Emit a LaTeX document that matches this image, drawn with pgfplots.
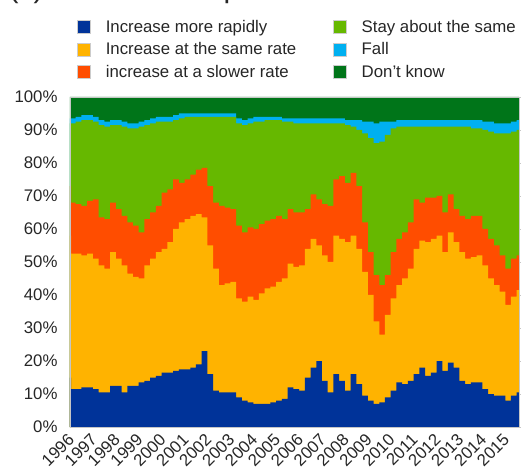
\documentclass[border=0pt]{standalone}
\usepackage{fontspec}
\setmainfont{Liberation Sans}
\usepackage{pgfplots}
\pgfplotsset{compat=1.18}
\usepackage{pgfplotstable}
\definecolor{cBlue}{RGB}{0,51,153}
\definecolor{cYel}{RGB}{255,179,0}
\definecolor{cRed}{RGB}{255,77,0}
\definecolor{cGrn}{RGB}{102,184,0}
\definecolor{cLb}{RGB}{0,176,240}
\definecolor{cDg}{RGB}{0,117,25}
\definecolor{cTxt}{RGB}{38,38,38}
\newcommand{\fs}{\fontsize{16.8}{19}\selectfont}
% cumulative shares (%): B1 = more rapidly, B2 = +same rate, B3 = +slower rate,
% B4 = +stay the same, B5 = +fall, T = +don't know (=100)
\pgfplotstableread{
t B1 B2 B3 B4 B5 T
1996.00 15 58 73 92 93.5 100
1996.05 11.5 52.5 68 92 93.5 100
1996.25 11.5 52.5 67.5 92.5 94 100
1996.50 12 52 67 93 94.5 100
1996.75 12 52.5 68.5 93 94.5 100
1997.00 11.5 51 69 92.5 94 100
1997.25 10.5 49 63.5 91.5 93 100
1997.50 10.5 48 63 91 92.5 100
1997.75 12.5 53 68 91.5 93 100
1998.00 12.5 51 66 91.5 93 100
1998.25 10.5 49 64 91 92.5 100
1998.50 12.5 46.5 62 90.5 92 100
1998.75 12.5 45.5 61 90.5 92 100
1999.00 13.5 45 59 91 92.5 100
1999.25 14 49 63 91.5 93 100
1999.50 15 51 65 92 93.5 100
1999.75 15.5 53 67 92.5 94 100
2000.00 16.5 54 71 92.5 94 100
2000.25 16.5 56 72 92.5 94 100
2000.50 17 60 75 93 94.5 100
2000.75 17.5 62 74 93.5 95 100
2001.00 17.5 63 75 94 95 100
2001.25 18 64 76.5 94 95 100
2001.50 19 64.5 78 94 95 100
2001.75 23 63.5 78.5 94 95 100
2002.00 16 55 73 94 95 100
2002.25 11 48 68 94 95 100
2002.50 10.5 43 67 94 95 100
2002.75 10.5 43.5 66.5 94 95 100
2003.00 10.5 44 66 94 95 100
2003.25 9 39 61 92 93.5 100
2003.50 8 38 59 91.5 93 100
2003.75 7.5 39.5 60.5 92 93.5 100
2004.00 7 38.5 60 92.5 94 100
2004.25 7 40.5 61.5 92.5 94 100
2004.50 7 42 62.5 93 94 100
2004.75 7.5 42.5 63 93 94 100
2005.00 8 44 64 93 94 100
2005.25 8.5 45 63 92.5 93.5 100
2005.50 12 49.5 66 92.5 93.5 100
2005.75 11.5 48.5 65 92 93.5 100
2006.00 11 49 65 92 93.5 100
2006.25 15 54 66 92 93.5 100
2006.50 18 57 70.5 92 93.5 100
2006.75 20 55 69 92 93.5 100
2007.00 14 52 67.5 92 93.5 100
2007.25 10.5 50 67 92 93.5 100
2007.50 16 58 75 92 93.5 100
2007.75 14 57 76 92 93.5 100
2008.00 11 56 74 91.5 93 100
2008.25 16 58 77 91 93 100
2008.50 13 54 73 90 93 100
2008.75 9.5 47 62 89 92.5 100
2009.00 8 40 53 87.5 92.5 100
2009.25 7 32 46 86 92 100
2009.50 7.5 28 43 86.5 92.5 100
2009.75 9 34 46 88.5 92.5 100
2010.00 11 39 53 90.5 92.5 100
2010.25 13.5 43 57 91 93 100
2010.50 13 45 59 91 93 100
2010.75 14 48 62 91 93 100
2011.00 16 54 69 91 93 100
2011.25 18 56.5 68 91 93 100
2011.50 15.5 56 69.5 91 93 100
2011.75 16.5 57 69.5 91 93 100
2012.00 20 58 70 91 93 100
2012.25 17 53 65 91 93 100
2012.50 19.5 59 70.5 91 93 100
2012.75 18 56 66 91 93 100
2013.00 14 53 64 91 93 100
2013.25 13 51 63 91 93 100
2013.50 13.5 51.5 64 90.5 93 100
2013.75 13.5 52 64 90.5 93 100
2014.00 11.5 49 60 90 92.5 100
2014.25 10 45 57 89.5 92.5 100
2014.50 9.5 43 55 89 92 100
2014.75 9.5 41 52 89 92 100
2015.00 8 37 48 89 92 100
2015.25 9.5 39.5 51 89.5 92.5 100
2015.50 10.5 41.5 52 90 93 100
2015.60 11 42 52 90 93 100
}\data

\begin{document}
\begin{tikzpicture}
\path[use as bounding box] (-70pt,-41pt) rectangle (451pt,427pt);
\node[anchor=base west, font=\fontsize{30}{36}\selectfont, text=cTxt] at (-65pt,429pt) {(c) Euro area expectations};
\begin{axis}[
  at={(0pt,0pt)}, anchor=south west,
  scale only axis, width=449pt, height=330pt,
  xmin=1996, xmax=2015.6, ymin=0, ymax=100,
  axis line style={draw=gray!45},
  axis on top,
  xtick={1996,...,2015}, xtick style={draw=none},
  xticklabel style={rotate=45, anchor=east, font=\fs, text=cTxt, yshift=-5pt},
  ytick={0,10,...,100}, ytick pos=right, yticklabel pos=left,
  tick align=outside, ytick style={draw=gray!45}, major tick length=4pt,
  yticklabel={\pgfmathprintnumber{\tick}\%},
  yticklabel style={font=\fs, text=cTxt, xshift=-5pt},
  /pgf/number format/assume math mode=true,
  /pgf/number format/1000 sep={},
  legend columns=2,
  legend cell align=left,
  legend image code/.code={\draw[#1, draw=gray!40] (0pt,-6.5pt) rectangle (13pt,6.5pt);},
  legend style={draw=none, fill=none, at={(axis description cs:0.016,1.24)}, anchor=north west,
    font=\fs, text=cTxt, inner sep=0pt, row sep=5pt,
    /tikz/every odd column/.append style={column sep=13pt},
    /tikz/every even column/.append style={column sep=35pt}},
]
\addplot[const plot, fill=cDg, draw=none, forget plot] table[x=t, y=T] {\data} \closedcycle;
\addplot[const plot, fill=cLb, draw=none, forget plot] table[x=t, y=B5] {\data} \closedcycle;
\addplot[const plot, fill=cGrn, draw=none, forget plot] table[x=t, y=B4] {\data} \closedcycle;
\addplot[const plot, fill=cRed, draw=none, forget plot] table[x=t, y=B3] {\data} \closedcycle;
\addplot[const plot, fill=cYel, draw=none, forget plot] table[x=t, y=B2] {\data} \closedcycle;
\addplot[const plot, fill=cBlue, draw=none, forget plot] table[x=t, y=B1] {\data} \closedcycle;
\addlegendimage{fill=cBlue}
\addlegendentry{Increase more rapidly}
\addlegendimage{fill=cGrn}
\addlegendentry{Stay about the same}
\addlegendimage{fill=cYel}
\addlegendentry{Increase at the same rate}
\addlegendimage{fill=cLb}
\addlegendentry{Fall}
\addlegendimage{fill=cRed}
\addlegendentry{increase at a slower rate}
\addlegendimage{fill=cDg}
\addlegendentry{Don't know}
\end{axis}
\end{tikzpicture}
\end{document}
